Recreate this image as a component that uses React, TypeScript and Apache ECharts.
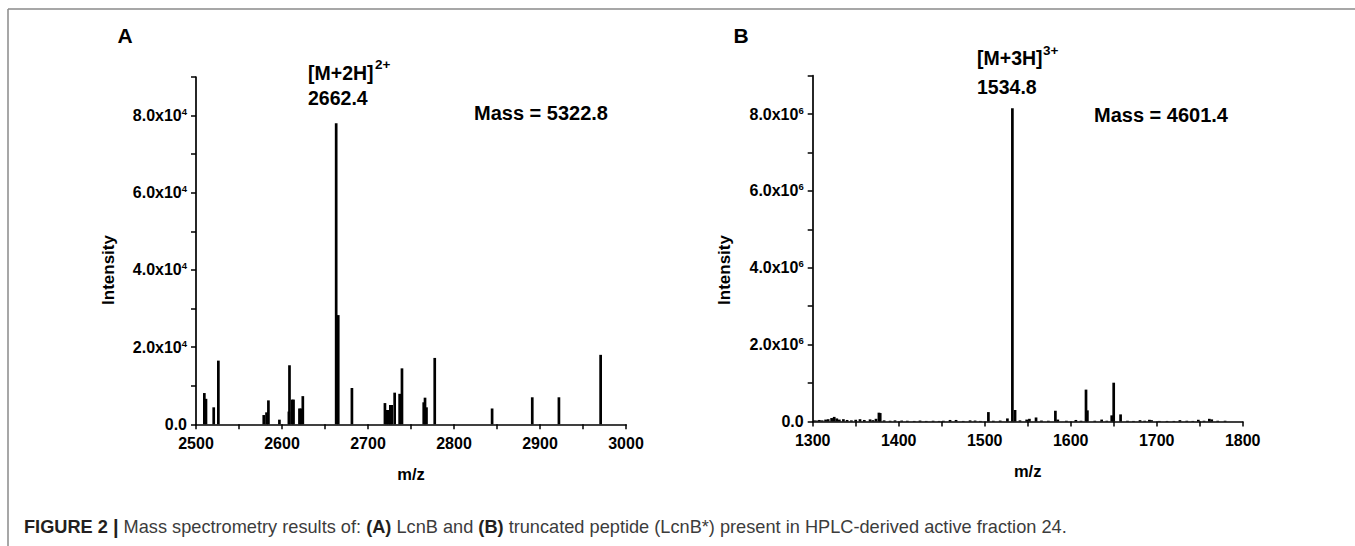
import React, { useEffect, useRef } from "react";
import * as echarts from "echarts";

const FONT = '"Liberation Sans", Arial, Helvetica, sans-serif';

// Panel A: LcnB, m/z 2500-3000
const xRangeA = [2500, 3000];
const yRangeA = [0, 90000];
const yExpA = 4;
const mzA = [2509.7, 2511.6, 2520.6, 2526.0, 2578.8, 2582.0, 2584.2, 2597.0, 2608.0, 2608.7, 2611.8, 2613.4, 2620.3, 2622.0, 2624.2, 2663.0, 2665.4, 2681.3, 2719.7, 2722.0, 2724.0, 2726.0, 2727.5, 2731.0, 2736.8, 2739.5, 2764.8, 2766.3, 2768.0, 2777.6, 2844.3, 2891.0, 2922.0, 2970.5];
const intensityA = [8100, 6600, 4400, 16500, 2400, 3100, 6200, 1200, 3300, 15300, 6400, 6400, 4100, 4100, 7300, 78000, 28300, 9400, 5500, 3700, 3700, 5000, 5000, 8200, 7900, 14500, 5700, 6900, 4400, 17200, 4100, 7000, 7000, 18000];

// Panel B: truncated peptide LcnB*, m/z 1300-1800
const xRangeB = [1300, 1800];
const yRangeB = [0, 9000000];
const yExpB = 6;
const mzB = [1302, 1305, 1307.8, 1311, 1315, 1318, 1322, 1325, 1328, 1331, 1335.7, 1340, 1345, 1350, 1355, 1360, 1366.7, 1370, 1373.6, 1377, 1378.5, 1383, 1390, 1395.7, 1403.5, 1410, 1418, 1424.8, 1432, 1440, 1447, 1452, 1459.7, 1466.7, 1475, 1483, 1488.8, 1495, 1504.3, 1510, 1518, 1526.4, 1532.2, 1535.3, 1541, 1548.8, 1552, 1559.7, 1566, 1574, 1582.2, 1585, 1595, 1606, 1612, 1617.8, 1619.4, 1628, 1636, 1642, 1647.7, 1650, 1658, 1666, 1673, 1680.6, 1686, 1691.5, 1694, 1703, 1712, 1720, 1727, 1735, 1742, 1748.4, 1755, 1761.2, 1764, 1771, 1779.5];
const intensityB = [30000, 25000, 40000, 30000, 50000, 60000, 90000, 120000, 80000, 50000, 60000, 40000, 30000, 45000, 60000, 40000, 55000, 35000, 70000, 230000, 220000, 30000, 20000, 30000, 25000, 20000, 15000, 25000, 15000, 20000, 15000, 20000, 40000, 40000, 15000, 30000, 25000, 15000, 245000, 20000, 25000, 80000, 8150000, 300000, 30000, 50000, 70000, 105000, 25000, 20000, 280000, 50000, 20000, 40000, 20000, 830000, 290000, 20000, 50000, 20000, 160000, 1010000, 185000, 20000, 15000, 35000, 20000, 45000, 35000, 15000, 15000, 15000, 35000, 20000, 15000, 45000, 20000, 70000, 55000, 20000, 20000];

const peakLabelA = { ion: "[M+2H]", charge: "2+", mz: "2662.4", mass: "Mass = 5322.8" };
const peakLabelB = { ion: "[M+3H]", charge: "3+", mz: "1534.8", mass: "Mass = 4601.4" };

const tickRich = {
  m: { fontFamily: FONT, fontWeight: "bold", fontSize: 16, color: "#000", lineHeight: 18 },
  s: { fontFamily: FONT, fontWeight: "bold", fontSize: 9.5, color: "#000", lineHeight: 10, verticalAlign: "top" },
};

const yFormatter = (exp: number) => (v: number) => {
  const unit = Math.round(v / Math.pow(10, exp));
  if (unit % 2 !== 0) return "";
  if (v === 0) return "{m|0.0}";
  return `{m|${unit.toFixed(1)}x10}{s|${exp}}`;
};
const xFormatter = (v: number) => (v % 100 === 0 ? `{m|${v}}` : "");

const axisCommon = {
  axisLine: { lineStyle: { color: "#000", width: 1.7 } },
  axisTick: { show: true, inside: false, length: 5, lineStyle: { color: "#000", width: 1.5 } },
  splitLine: { show: false },
};

function makeX(grid: number, range: number[]) {
  return {
    type: "value",
    gridIndex: grid,
    min: range[0],
    max: range[1],
    interval: 50,
    ...axisCommon,
    axisLabel: { formatter: xFormatter, rich: tickRich, margin: 10 },
    name: "m/z",
    nameLocation: "middle",
    nameGap: 41,
    nameTextStyle: { fontFamily: FONT, fontWeight: "bold", fontSize: 16.5, color: "#000" },
  };
}

function makeY(grid: number, range: number[], exp: number) {
  return {
    type: "value",
    gridIndex: grid,
    min: range[0],
    max: range[1],
    interval: Math.pow(10, exp),
    ...axisCommon,
    axisLabel: { formatter: yFormatter(exp), rich: tickRich, margin: 9 },
  };
}

const textStyle = (size: number, extra: any = {}) => ({
  fontFamily: FONT,
  fontWeight: "bold",
  fontSize: size,
  fill: "#000",
  ...extra,
});

export default function App() {
  const ref = useRef<HTMLDivElement>(null);
  useEffect(() => {
    if (!ref.current) return;
    const chart = echarts.init(ref.current, undefined, { renderer: "svg" });
    const dataA = mzA.map((m, i) => [m, intensityA[i]]);
    const dataB = mzB.map((m, i) => [m, intensityB[i]]);
    chart.setOption({
      animation: false,
      backgroundColor: "#fff",
      grid: [
        { left: 196, top: 77, width: 430, height: 347.3 },
        { left: 812.7, top: 75.7, width: 430, height: 345.8 },
      ],
      xAxis: [makeX(0, xRangeA), makeX(1, xRangeB)],
      yAxis: [makeY(0, yRangeA, yExpA), makeY(1, yRangeB, yExpB)],
      series: [
        { type: "bar", xAxisIndex: 0, yAxisIndex: 0, data: dataA, barWidth: 2.7, itemStyle: { color: "#000" } },
        { type: "bar", xAxisIndex: 1, yAxisIndex: 1, data: dataB, barWidth: 2.7, itemStyle: { color: "#000" } },
      ],
      graphic: [
        { type: "line", shape: { x1: 8, y1: 9, x2: 1355, y2: 9 }, style: { stroke: "#8a8a8a", lineWidth: 1.5 } },
        { type: "line", shape: { x1: 8, y1: 9, x2: 8, y2: 546 }, style: { stroke: "#8a8a8a", lineWidth: 1.5 } },
        { type: "text", x: 125, y: 35, style: textStyle(21, { text: "A", align: "center", verticalAlign: "middle" }) },
        { type: "text", x: 741, y: 35, style: textStyle(21, { text: "B", align: "center", verticalAlign: "middle" }) },
        { type: "text", x: 108, y: 270, rotation: Math.PI / 2, style: textStyle(17, { text: "Intensity", align: "center", verticalAlign: "middle" }) },
        { type: "text", x: 724, y: 270, rotation: Math.PI / 2, style: textStyle(17, { text: "Intensity", align: "center", verticalAlign: "middle" }) },
        // Panel A annotations
        { type: "text", x: 308, y: 73, style: textStyle(19.5, { text: peakLabelA.ion, verticalAlign: "middle" }) },
        { type: "text", x: 375, y: 64, style: textStyle(13.5, { text: peakLabelA.charge, verticalAlign: "middle" }) },
        { type: "text", x: 308, y: 97.5, style: textStyle(19.5, { text: peakLabelA.mz, verticalAlign: "middle" }) },
        { type: "text", x: 474, y: 113, style: textStyle(20, { text: peakLabelA.mass, verticalAlign: "middle" }) },
        // Panel B annotations
        { type: "text", x: 977, y: 58, style: textStyle(19.5, { text: peakLabelB.ion, verticalAlign: "middle" }) },
        { type: "text", x: 1043, y: 50, style: textStyle(13.5, { text: peakLabelB.charge, verticalAlign: "middle" }) },
        { type: "text", x: 977, y: 86.5, style: textStyle(19.5, { text: peakLabelB.mz, verticalAlign: "middle" }) },
        { type: "text", x: 1094, y: 115, style: textStyle(20, { text: peakLabelB.mass, verticalAlign: "middle" }) },
        // Caption
        {
          type: "text",
          x: 24,
          y: 527,
          style: {
            text:
              "{b|FIGURE 2 }{p||}{n| Mass spectrometry results of: }{b|(A)}{n| LcnB and }{b|(B)}{n| truncated peptide (LcnB*) present in HPLC-derived active fraction 24.}",
            verticalAlign: "middle",
            rich: {
              b: { fontFamily: FONT, fontWeight: "bold", fontSize: 18.2, fill: "#231f20" },
              p: { fontFamily: FONT, fontWeight: "bold", fontSize: 20, fill: "#231f20" },
              n: { fontFamily: FONT, fontSize: 18.2, fill: "#3c3c3c" },
            },
          },
        },
      ],
    });
    return () => chart.dispose();
  }, []);
  return (
    <div
      ref={ref}
      style={{ position: "absolute", left: 0, top: 0, width: 1355, height: 546, background: "#fff" }}
    />
  );
}
